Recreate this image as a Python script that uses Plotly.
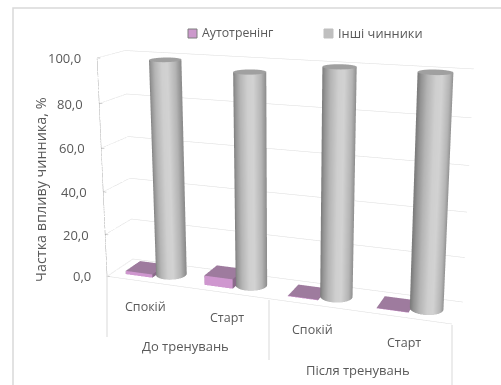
import numpy as np
import plotly.graph_objects as go

categories = ["Спокій", "Старт", "Спокій", "Старт"]
groups = ["До тренувань", "Після тренувань"]
autotraining = [1.6, 4.4, 0.3, 0.2]
other_factors = [98.8, 95.6, 99.9, 99.8]
y_ticks = [0, 20, 40, 60, 80, 100]
y_title = "Частка впливу чинника, %"
series_names = ["Аутотренінг", "Інші чинники"]

# Page geometry: the scene is larger than the window so the 45 degree camera
# lens gets a long focal length; the plot div is pulled up by TOP_SHIFT pixels.
FIG_W, FIG_H, TOP_SHIFT = 566, 824, 253
FONT = "Open Sans"
TEXT = "#595959"
GRID = "#dcdcdc"


def px(x):
    return x / FIG_W


def py(y):
    return 1 - (y + TOP_SHIFT) / FIG_H


# Bar layout inside one category slot, in data units
BOX_L, BOX_R = -0.33, 0.015
CYL_X, CYL_RX = 0.17, 0.177
DEPTH_C, DEPTH_R = 0.5, 0.283

fig = go.Figure()

# Walls and axis lines
gx, gy, gz = [], [], []
for t in y_ticks:
    gx += [0.5, 0.5, 4.5, None]
    gy += [0, 1, 1, None]
    gz += [t, t, t, None]
gx += [0.5, 4.5]
gy += [0, 0]
gz += [0, 0]
fig.add_trace(go.Scatter3d(x=gx, y=gy, z=gz, mode="lines", line=dict(color=GRID, width=1),
                           hoverinfo="skip", showlegend=False))
ax, ay, az = [0.5, 0.5, None], [0, 0, None], [0, 100, None]
for t in y_ticks:
    ax += [0.5, 0.54, None]
    ay += [0, 0, None]
    az += [t, t, None]
fig.add_trace(go.Scatter3d(x=ax, y=ay, z=az, mode="lines", line=dict(color="#a8a8a8", width=1),
                           hoverinfo="skip", showlegend=False))

# Flat purple boxes for the first series
BOX_TOP, BOX_FRONT, BOX_SIDE = "#9e7b9e", "#cf97cf", "#8a6a8a"
for i, v in enumerate(autotraining):
    c = i + 1
    x0, x1 = c + BOX_L, c + BOX_R
    y0, y1 = DEPTH_C - DEPTH_R, DEPTH_C + DEPTH_R
    vx = [x0, x1, x1, x0, x0, x1, x1, x0]
    vy = [y0, y0, y1, y1, y0, y0, y1, y1]
    vz = [0, 0, 0, 0, v, v, v, v]
    tri = [(4, 5, 6, BOX_TOP), (4, 6, 7, BOX_TOP),
           (0, 1, 5, BOX_FRONT), (0, 5, 4, BOX_FRONT),
           (1, 2, 6, BOX_SIDE), (1, 6, 5, BOX_SIDE),
           (0, 3, 7, BOX_SIDE), (0, 7, 4, BOX_SIDE)]
    fig.add_trace(go.Mesh3d(
        x=vx, y=vy, z=vz,
        i=[t[0] for t in tri], j=[t[1] for t in tri], k=[t[2] for t in tri],
        facecolor=[t[3] for t in tri], flatshading=True,
        lighting=dict(ambient=1, diffuse=0, specular=0, fresnel=0),
        name=series_names[0], hoverinfo="name", showlegend=False))

# Grey cylinders for the second series
theta = np.linspace(0, 2 * np.pi, 97)
shade = np.cos(theta) * 0.94 + np.sin(theta) * 0.34
side_scale = [[0, "#7c7c7c"], [0.07, "#949494"], [0.22, "#b4b4b4"], [0.45, "#cfcfcf"],
              [0.62, "#d2d2d2"], [0.85, "#b4b4b4"], [1, "#8c8c8c"]]
flat = dict(ambient=1, diffuse=0, specular=0, fresnel=0, roughness=1)
for i, v in enumerate(other_factors):
    c = i + 1 + CYL_X
    ring_x = c + CYL_RX * np.cos(theta)
    ring_y = DEPTH_C + DEPTH_R * np.sin(theta)
    fig.add_trace(go.Surface(
        x=np.vstack([ring_x, ring_x]), y=np.vstack([ring_y, ring_y]),
        z=np.vstack([np.zeros_like(theta), np.full_like(theta, v)]),
        surfacecolor=np.vstack([shade, shade]), cmin=-1, cmax=1,
        colorscale=side_scale, showscale=False, lighting=flat,
        name=series_names[1], hoverinfo="name", showlegend=False))
    fig.add_trace(go.Surface(
        x=np.vstack([np.full_like(theta, c), ring_x]),
        y=np.vstack([np.full_like(theta, DEPTH_C), ring_y]),
        z=np.full((2, theta.size), v),
        surfacecolor=np.zeros((2, theta.size)), cmin=-1, cmax=1,
        colorscale=[[0, "#a0a0a0"], [1, "#a0a0a0"]], showscale=False, lighting=flat,
        name=series_names[1], hoverinfo="name", showlegend=False))

# Axis labels pinned to the scene coordinates
scene_notes = []
for t in y_ticks:
    scene_notes.append(dict(x=0.5, y=0, z=t, text=f"{t:.1f}".replace(".", ","), showarrow=False,
                            xanchor="right", yanchor="middle", xshift=-14,
                            font=dict(family=FONT, size=13, color=TEXT)))
for i, name in enumerate(categories):
    scene_notes.append(dict(x=i + 1, y=0, z=0, text=name, showarrow=False,
                            xanchor="center", yanchor="middle", yshift=-25,
                            font=dict(family=FONT, size=12.5, color=TEXT)))
for i, name in enumerate(groups):
    scene_notes.append(dict(x=2 * i + 1.5, y=0, z=0, text=name, showarrow=False,
                            xanchor="center", yanchor="middle", yshift=-59,
                            font=dict(family=FONT, size=13, color=TEXT)))

notes = [
    dict(x=px(40), y=py(190), xref="paper", yref="paper", text=y_title, textangle=-90, showarrow=False,
         xanchor="center", yanchor="middle", font=dict(family=FONT, size=14.4, color=TEXT)),
    dict(x=px(200), y=py(33), xref="paper", yref="paper", text=series_names[0], showarrow=False,
         xanchor="left", yanchor="middle", font=dict(family=FONT, size=12.3, color=TEXT)),
    dict(x=px(336), y=py(33), xref="paper", yref="paper", text=series_names[1], showarrow=False,
         xanchor="left", yanchor="middle", font=dict(family=FONT, size=12.8, color=TEXT)),
]


def rect(x0, y0, x1, y1, fill, line, width=1):
    return dict(type="rect", xref="paper", yref="paper", x0=px(x0), x1=px(x1), y0=py(y0), y1=py(y1),
                fillcolor=fill, line=dict(color=line, width=width))


def vline(x, y0, y1):
    return dict(type="line", xref="paper", yref="paper", x0=px(x), x1=px(x), y0=py(y0), y1=py(y1),
                line=dict(color="#d9d9d9", width=1))


shapes = [
    dict(type="rect", xref="paper", yref="paper", x0=px(13), x1=px(560), y0=py(8), y1=py(540),
         fillcolor="rgba(0,0,0,0)", line=dict(color="#d9d9d9", width=1.5)),
    rect(188, 29, 197, 38, "#cc99cc", "#7f7f7f"),
    rect(324, 29, 333, 38, "#bfbfbf", "#bfbfbf"),
    vline(107, 276, 337),
    vline(269, 300, 360),
    vline(452, 325, 385),
]

hidden = dict(visible=False)
fig.update_layout(
    width=FIG_W, height=FIG_H, autosize=False,
    margin=dict(l=0, r=0, t=0, b=0, pad=0),
    paper_bgcolor="white",
    showlegend=False,
    shapes=shapes, annotations=notes,
    scene=dict(
        domain=dict(x=[0, 1], y=[0, 1]),
        xaxis=dict(range=[0.5, 4.5], **hidden),
        yaxis=dict(range=[0, 1], **hidden),
        zaxis=dict(range=[0, 100], **hidden),
        aspectmode="manual",
        aspectratio=dict(x=1, y=0.1563, z=0.634),
        camera=dict(eye=dict(x=0.9008, y=-2.4463, z=0.7088),
                    center=dict(x=0.0062, y=0.0164, z=0.0532),
                    up=dict(x=0, y=0, z=1),
                    projection=dict(type="perspective")),
        bgcolor="rgba(0,0,0,0)",
        annotations=scene_notes,
    ),
)

shift_js = (
    "var gd=document.getElementById('{plot_id}');"
    f"gd.style.marginTop='-{TOP_SHIFT}px';"
    "document.documentElement.style.overflow='hidden';"
    "document.body.style.overflow='hidden';"
)
fig.write_html("out.html", config=dict(displayModeBar=False), post_script=shift_js)
